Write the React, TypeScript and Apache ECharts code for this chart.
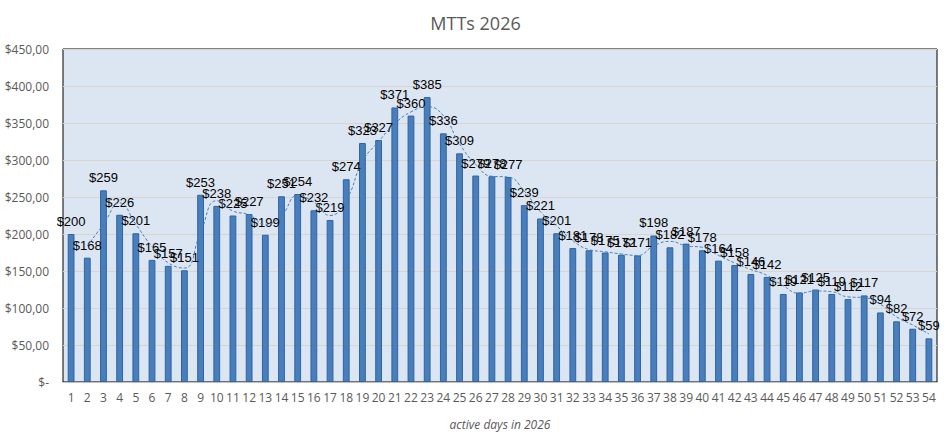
import { useEffect, useRef } from "react";
import * as echarts from "echarts";

// active days 1..54
const days = Array.from({ length: 54 }, (_, i) => String(i + 1));

// MTT result per active day (bar labels)
const amounts = [
  200, 168, 259, 226, 201, 165, 157, 151, 253, 238,
  225, 227, 199, 251, 254, 232, 219, 274, 323, 327,
  371, 360, 385, 336, 309, 279, 278, 277, 239, 221,
  201, 181, 178, 175, 172, 171, 198, 182, 187, 178,
  164, 158, 146, 142, 119, 121, 125, 119, 112, 117,
  94, 82, 72, 59,
];

// dashed trend line (starts at day 2)
const trend = [
  null, 184, 213, 242, 213, 183, 161, 154, 202, 245,
  231, 226, 213, 225, 252, 243, 225, 246, 298, 325,
  349, 365, 372, 360, 322, 294, 278, 277, 258, 230,
  211, 191, 179, 176, 173, 171, 184, 190, 184, 182,
  171, 161, 152, 144, 130, 120, 123, 122, 115, 114,
  105, 88, 77, 65,
];

const yTicks = { min: 0, max: 450, interval: 50 };

const fmtMoney = (v: number) => (v === 0 ? "$-" : "$" + v.toFixed(2).replace(".", ","));

export default function App() {
  const ref = useRef<HTMLDivElement | null>(null);

  useEffect(() => {
    document.body.style.margin = "0";
    if (!ref.current) return;
    const chart = echarts.init(ref.current, null, { renderer: "svg" });

    chart.setOption({
      animation: false,
      textStyle: { fontFamily: "Open Sans, Liberation Sans, sans-serif" },
      title: {
        text: "MTTs 2026",
        left: "center",
        top: 9,
        textStyle: { fontSize: 18, fontWeight: "normal", color: "#595959" },
      },
      grid: {
        left: 63,
        right: 14,
        top: 49,
        bottom: 60,
        show: true,
        backgroundColor: "#dce6f2",
        borderColor: "#000",
        borderWidth: 1,
      },
      xAxis: {
        type: "category",
        data: days,
        name: "active days in 2026",
        nameLocation: "middle",
        nameGap: 36,
        nameTextStyle: { fontStyle: "italic", fontSize: 12, color: "#595959" },
        axisLine: { lineStyle: { color: "#bfbfbf" } },
        axisTick: { show: false },
        axisLabel: { color: "#595959", fontSize: 12, margin: 9, interval: 0 },
      },
      yAxis: {
        type: "value",
        min: yTicks.min,
        max: yTicks.max,
        interval: yTicks.interval,
        axisLine: { show: false },
        axisTick: { show: false },
        splitLine: { lineStyle: { color: "#d9d4cc", width: 1 } },
        axisLabel: { color: "#595959", fontSize: 12, margin: 14, formatter: fmtMoney },
      },
      series: [
        {
          type: "bar",
          data: amounts,
          barWidth: "42%",
          itemStyle: { color: "#4a7ebb", borderColor: "#2c64a8", borderWidth: 1 },
          label: {
            show: true,
            position: "top",
            distance: 6,
            color: "#000",
            fontSize: 13,
            fontFamily: "Liberation Sans Narrow, Liberation Sans, sans-serif",
            formatter: (p: any) => "$" + p.value,
          },
          z: 2,
        },
        {
          type: "line",
          data: trend,
          smooth: true,
          symbol: "none",
          lineStyle: { color: "#4a7ebb", width: 1, type: [3, 2] },
          z: 3,
        },
      ],
    });

    return () => chart.dispose();
  }, []);

  return <div ref={ref} style={{ width: 951, height: 442 }} />;
}
